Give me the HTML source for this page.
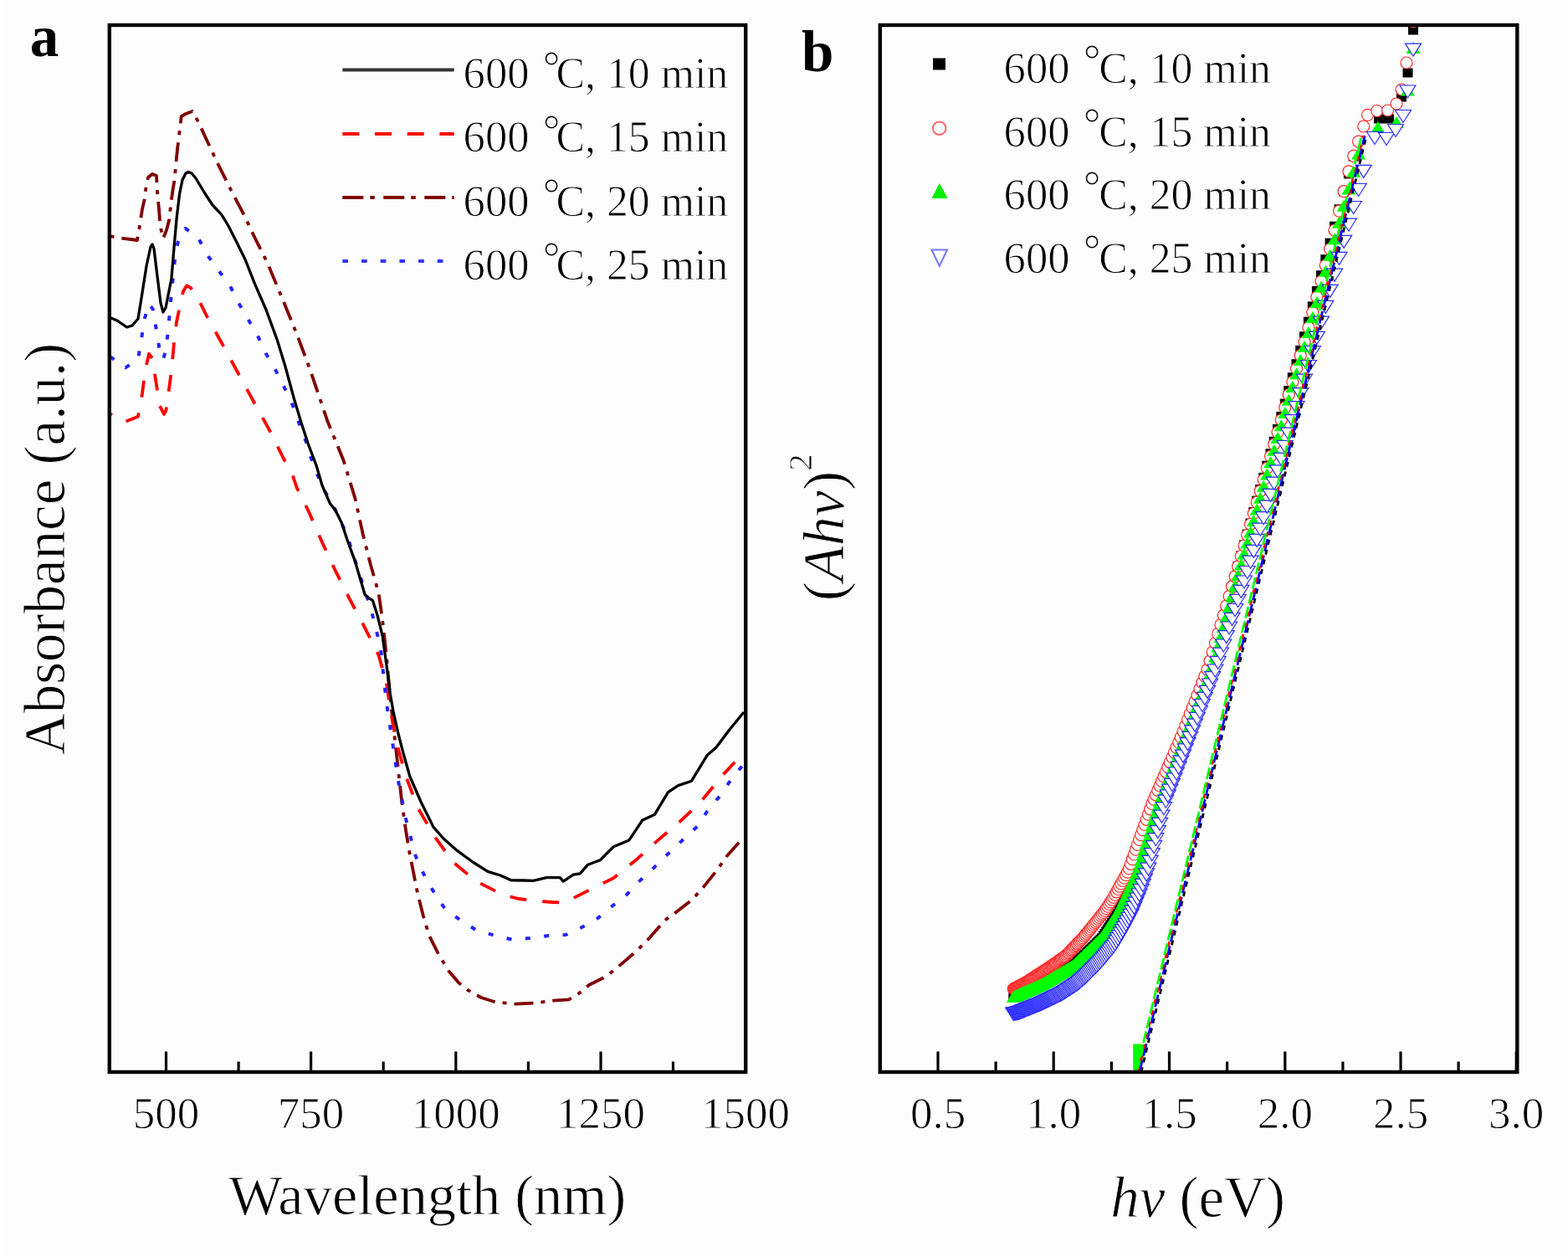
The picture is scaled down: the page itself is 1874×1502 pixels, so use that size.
<!DOCTYPE html>
<html><head><meta charset="utf-8"><title>Absorbance and Tauc plot</title>
<style>html,body{margin:0;padding:0;background:#fdfdfd;}svg{display:block;}</style>
</head><body>
<svg width="1874" height="1502" viewBox="0 0 1874 1502">
<rect x="0" y="0" width="1874" height="1502" fill="#fdfdfd"/>
<rect x="0" y="0" width="8" height="1502" fill="#ffffff"/>
<defs><clipPath id="ca"><rect x="130.8" y="30.0" width="760.4000000000001" height="1251.0"/></clipPath><clipPath id="cb"><rect x="1051.8" y="30.0" width="761.5" height="1251.0"/></clipPath></defs>
<g clip-path="url(#ca)" fill="none" stroke-linejoin="round">
<polyline points="131.5,282.2 145.0,284.5 164.0,287.0 166.4,273.4 170.0,250.0 172.7,238.2 174.3,225.5 177.0,212.0 182.0,208.0 187.0,210.0 188.0,230.0 190.0,250.0 191.5,270.0 195.0,285.0 199.0,275.0 202.3,262.2 204.7,240.0 206.7,226.0 208.7,214.3 210.3,195.0 212.3,176.0 214.3,160.0 216.7,139.2 222.0,136.0 230.0,133.0 237.5,146.4 245.0,163.0 260.0,195.0 275.0,225.0 291.4,256.4 305.0,285.0 320.0,315.0 341.3,366.2 355.0,400.0 370.0,440.0 391.2,502.7 410.5,550.0 424.5,595.8 433.8,638.5 443.0,675.0 452.5,708.4 457.0,740.0 461.8,782.9 466.0,830.0 471.1,876.0 476.0,920.0 480.4,959.9 485.0,992.0 489.7,1020.4 499.0,1067.0 506.0,1095.0 513.0,1118.2 524.0,1140.0 536.3,1160.2 548.0,1174.0 559.6,1183.4 575.0,1192.0 592.2,1197.4 615.5,1199.7 640.0,1198.4 661.3,1195.7 680.0,1194.4 692.0,1187.0 703.9,1177.0 725.2,1166.4 741.2,1153.1 759.9,1137.1 775.9,1121.1 794.5,1099.8 809.2,1089.1 826.5,1075.8 839.8,1061.1 855.8,1041.2 869.1,1022.5 889.0,1000.0" stroke="#800000" stroke-width="3.8" stroke-dasharray="23 9 5 9" stroke-dashoffset="32"/>
<polyline points="131.5,494.3 140.0,500.0 148.3,504.3 157.0,501.0 165.0,497.7 170.0,470.0 174.0,440.0 178.2,422.8 182.0,428.0 187.0,460.0 191.0,485.0 196.0,495.0 198.5,490.0 202.0,465.0 204.9,442.8 208.0,410.0 211.0,385.0 214.9,366.0 219.0,348.0 223.2,341.3 228.0,344.0 234.8,353.0 248.1,379.5 264.8,409.5 284.7,446.0 304.7,482.7 321.3,512.6 338.0,546.0 350.0,568.6 354.6,582.5 368.6,610.5 385.0,648.0 401.2,682.7 418.0,716.0 433.8,745.6 452.5,782.9 461.8,815.5 467.0,850.0 473.4,885.4 485.0,927.3 499.0,964.5 517.7,997.1 541.0,1029.7 568.9,1053.0 601.5,1069.3 620.0,1074.0 638.8,1076.3 660.0,1078.0 674.6,1078.5 701.2,1065.1 733.2,1049.2 759.9,1027.8 786.5,1003.9 813.2,981.2 837.1,958.6 861.1,929.2 889.0,899.0" stroke="#ff0000" stroke-width="3.8" stroke-dasharray="20 19" stroke-dashoffset="17"/>
<polyline points="131.5,426.1 140.0,432.0 150.0,439.4 158.0,434.0 165.0,429.4 169.0,405.0 173.0,380.0 178.2,362.9 183.0,370.0 187.0,395.0 191.0,420.0 194.9,429.4 198.0,420.0 201.0,395.0 204.0,360.0 207.0,330.0 210.0,300.0 214.0,285.0 221.5,273.0 236.5,283.0 246.5,303.0 259.8,321.3 274.8,341.3 284.7,361.2 296.4,381.2 308.0,401.2 318.0,422.8 329.7,442.8 338.0,459.4 348.0,479.4 356.3,502.7 364.6,524.3 371.3,546.0 378.0,564.0 387.0,585.0 396.6,601.0 406.0,620.0 415.2,640.8 429.2,685.0 443.2,727.0 454.8,773.6 461.8,838.8 468.8,885.4 475.8,931.9 485.0,978.5 496.7,1022.8 506.0,1043.7 517.7,1064.7 531.6,1085.6 550.3,1099.6 568.9,1111.2 592.2,1118.2 613.2,1122.9 633.3,1121.1 656.0,1117.9 675.9,1117.1 695.9,1107.8 714.6,1097.1 731.9,1082.5 746.5,1071.8 762.5,1054.5 778.5,1039.8 793.2,1025.2 817.2,1002.5 834.5,986.5 847.8,965.2 861.1,950.6 874.4,930.6 889.0,913.0" stroke="#2222ff" stroke-width="4" stroke-dasharray="6 16.5"/>
<polyline points="131.5,379.5 140.0,383.0 151.6,391.0 158.0,389.0 165.0,381.0 170.0,350.0 175.0,318.0 180.0,295.0 182.0,292.0 184.0,297.0 188.0,330.0 192.0,362.0 195.0,373.0 198.0,368.0 204.9,333.0 208.0,296.0 211.0,262.0 214.5,232.0 218.0,215.0 222.0,207.0 225.0,205.5 229.0,207.0 234.0,213.0 244.8,231.0 254.0,245.0 264.8,256.4 273.0,270.0 281.4,286.4 293.0,310.0 304.7,339.6 318.0,370.0 331.3,406.2 341.0,438.0 351.3,476.0 360.0,505.0 367.9,529.3 378.0,556.0 385.0,580.0 394.2,601.2 401.0,610.0 408.2,624.5 415.0,645.0 424.5,671.1 430.0,690.0 436.2,710.7 440.0,714.0 445.5,717.7 451.0,735.0 457.1,759.6 462.0,795.0 466.4,829.5 470.0,850.0 475.8,876.0 482.0,900.0 489.7,927.3 503.0,958.0 517.7,987.8 530.0,1002.0 545.6,1015.8 565.0,1030.0 582.9,1041.4 598.0,1046.0 610.7,1051.8 625.0,1052.0 637.3,1052.3 653.3,1048.6 669.3,1048.6 673.3,1053.2 685.3,1045.2 693.3,1043.8 702.6,1033.2 717.2,1027.8 733.2,1011.8 751.9,1003.9 767.9,979.9 782.5,973.2 798.5,946.6 810.5,938.6 826.5,933.2 845.1,902.6 855.8,893.3 871.8,872.0 889.0,851.0" stroke="#000000" stroke-width="3.3"/>
</g>
<clipPath id="cb2"><rect x="1051.8" y="30.0" width="761.5" height="1251.0"/></clipPath>
<g clip-path="url(#cb2)">
<g fill="#000">
<rect x="1205.3" y="1186.3" width="12" height="11"/>
<rect x="1206.1" y="1186.0" width="12" height="11"/>
<rect x="1206.9" y="1185.6" width="12" height="11"/>
<rect x="1207.6" y="1185.3" width="12" height="11"/>
<rect x="1208.4" y="1184.9" width="12" height="11"/>
<rect x="1209.2" y="1184.6" width="12" height="11"/>
<rect x="1210.0" y="1184.2" width="12" height="11"/>
<rect x="1210.8" y="1183.9" width="12" height="11"/>
<rect x="1211.6" y="1183.5" width="12" height="11"/>
<rect x="1212.4" y="1183.2" width="12" height="11"/>
<rect x="1213.2" y="1182.8" width="12" height="11"/>
<rect x="1214.0" y="1182.4" width="12" height="11"/>
<rect x="1214.8" y="1182.1" width="12" height="11"/>
<rect x="1215.7" y="1181.7" width="12" height="11"/>
<rect x="1216.5" y="1181.3" width="12" height="11"/>
<rect x="1217.4" y="1181.0" width="12" height="11"/>
<rect x="1218.2" y="1180.6" width="12" height="11"/>
<rect x="1219.1" y="1180.2" width="12" height="11"/>
<rect x="1219.9" y="1179.8" width="12" height="11"/>
<rect x="1220.8" y="1179.5" width="12" height="11"/>
<rect x="1221.7" y="1179.1" width="12" height="11"/>
<rect x="1222.5" y="1178.7" width="12" height="11"/>
<rect x="1223.4" y="1178.3" width="12" height="11"/>
<rect x="1224.3" y="1177.9" width="12" height="11"/>
<rect x="1225.2" y="1177.5" width="12" height="11"/>
<rect x="1226.1" y="1177.1" width="12" height="11"/>
<rect x="1227.0" y="1176.7" width="12" height="11"/>
<rect x="1227.9" y="1176.3" width="12" height="11"/>
<rect x="1228.9" y="1175.9" width="12" height="11"/>
<rect x="1229.8" y="1175.5" width="12" height="11"/>
<rect x="1230.7" y="1175.1" width="12" height="11"/>
<rect x="1231.7" y="1174.6" width="12" height="11"/>
<rect x="1232.6" y="1174.2" width="12" height="11"/>
<rect x="1233.6" y="1173.8" width="12" height="11"/>
<rect x="1234.5" y="1173.4" width="12" height="11"/>
<rect x="1235.5" y="1172.9" width="12" height="11"/>
<rect x="1236.5" y="1172.5" width="12" height="11"/>
<rect x="1237.5" y="1172.1" width="12" height="11"/>
<rect x="1238.5" y="1171.6" width="12" height="11"/>
<rect x="1239.5" y="1171.2" width="12" height="11"/>
<rect x="1240.5" y="1170.6" width="12" height="11"/>
<rect x="1241.5" y="1170.0" width="12" height="11"/>
<rect x="1242.5" y="1169.4" width="12" height="11"/>
<rect x="1243.6" y="1168.8" width="12" height="11"/>
<rect x="1244.6" y="1168.2" width="12" height="11"/>
<rect x="1245.7" y="1167.5" width="12" height="11"/>
<rect x="1246.7" y="1166.9" width="12" height="11"/>
<rect x="1247.8" y="1166.2" width="12" height="11"/>
<rect x="1248.9" y="1165.6" width="12" height="11"/>
<rect x="1249.9" y="1164.9" width="12" height="11"/>
<rect x="1251.0" y="1164.3" width="12" height="11"/>
<rect x="1252.1" y="1163.6" width="12" height="11"/>
<rect x="1253.2" y="1162.9" width="12" height="11"/>
<rect x="1254.4" y="1162.3" width="12" height="11"/>
<rect x="1255.5" y="1161.6" width="12" height="11"/>
<rect x="1256.6" y="1160.9" width="12" height="11"/>
<rect x="1257.8" y="1160.2" width="12" height="11"/>
<rect x="1258.9" y="1159.5" width="12" height="11"/>
<rect x="1260.1" y="1158.8" width="12" height="11"/>
<rect x="1261.3" y="1158.1" width="12" height="11"/>
<rect x="1262.5" y="1157.4" width="12" height="11"/>
<rect x="1263.7" y="1156.7" width="12" height="11"/>
<rect x="1264.9" y="1155.9" width="12" height="11"/>
<rect x="1266.1" y="1155.2" width="12" height="11"/>
<rect x="1267.3" y="1154.5" width="12" height="11"/>
<rect x="1268.5" y="1153.7" width="12" height="11"/>
<rect x="1269.8" y="1153.0" width="12" height="11"/>
<rect x="1271.1" y="1152.2" width="12" height="11"/>
<rect x="1272.3" y="1151.4" width="12" height="11"/>
<rect x="1273.6" y="1150.7" width="12" height="11"/>
<rect x="1274.9" y="1149.9" width="12" height="11"/>
<rect x="1276.2" y="1149.1" width="12" height="11"/>
<rect x="1277.5" y="1148.2" width="12" height="11"/>
<rect x="1278.8" y="1146.9" width="12" height="11"/>
<rect x="1280.2" y="1145.6" width="12" height="11"/>
<rect x="1281.5" y="1144.3" width="12" height="11"/>
<rect x="1282.9" y="1143.0" width="12" height="11"/>
<rect x="1284.2" y="1141.6" width="12" height="11"/>
<rect x="1285.6" y="1140.3" width="12" height="11"/>
<rect x="1287.0" y="1138.9" width="12" height="11"/>
<rect x="1288.4" y="1137.5" width="12" height="11"/>
<rect x="1289.9" y="1136.1" width="12" height="11"/>
<rect x="1291.3" y="1134.7" width="12" height="11"/>
<rect x="1292.8" y="1133.3" width="12" height="11"/>
<rect x="1294.2" y="1131.9" width="12" height="11"/>
<rect x="1295.7" y="1130.4" width="12" height="11"/>
<rect x="1297.2" y="1129.0" width="12" height="11"/>
<rect x="1298.7" y="1127.5" width="12" height="11"/>
<rect x="1300.2" y="1126.0" width="12" height="11"/>
<rect x="1301.7" y="1124.5" width="12" height="11"/>
<rect x="1303.3" y="1123.0" width="12" height="11"/>
<rect x="1304.8" y="1121.5" width="12" height="11"/>
<rect x="1306.4" y="1120.0" width="12" height="11"/>
<rect x="1308.0" y="1118.4" width="12" height="11"/>
<rect x="1309.6" y="1116.8" width="12" height="11"/>
<rect x="1311.2" y="1115.1" width="12" height="11"/>
<rect x="1312.9" y="1112.6" width="12" height="11"/>
<rect x="1314.5" y="1110.0" width="12" height="11"/>
<rect x="1316.2" y="1107.4" width="12" height="11"/>
<rect x="1317.9" y="1104.8" width="12" height="11"/>
<rect x="1319.6" y="1102.2" width="12" height="11"/>
<rect x="1321.3" y="1099.5" width="12" height="11"/>
<rect x="1323.1" y="1096.8" width="12" height="11"/>
<rect x="1324.8" y="1094.1" width="12" height="11"/>
<rect x="1326.6" y="1091.3" width="12" height="11"/>
<rect x="1328.4" y="1088.5" width="12" height="11"/>
<rect x="1330.2" y="1085.7" width="12" height="11"/>
<rect x="1332.0" y="1082.1" width="12" height="11"/>
<rect x="1333.9" y="1077.9" width="12" height="11"/>
<rect x="1335.8" y="1073.7" width="12" height="11"/>
<rect x="1337.7" y="1069.4" width="12" height="11"/>
<rect x="1339.6" y="1065.0" width="12" height="11"/>
<rect x="1341.5" y="1060.6" width="12" height="11"/>
<rect x="1343.4" y="1056.2" width="12" height="11"/>
<rect x="1345.4" y="1051.7" width="12" height="11"/>
<rect x="1347.4" y="1047.2" width="12" height="11"/>
<rect x="1349.4" y="1042.6" width="12" height="11"/>
<rect x="1351.5" y="1038.0" width="12" height="11"/>
<rect x="1353.5" y="1032.8" width="12" height="11"/>
<rect x="1355.6" y="1026.0" width="12" height="11"/>
<rect x="1357.7" y="1019.1" width="12" height="11"/>
<rect x="1359.8" y="1012.2" width="12" height="11"/>
<rect x="1362.0" y="1005.2" width="12" height="11"/>
<rect x="1364.2" y="998.1" width="12" height="11"/>
<rect x="1366.4" y="990.9" width="12" height="11"/>
<rect x="1368.6" y="983.6" width="12" height="11"/>
<rect x="1370.8" y="976.2" width="12" height="11"/>
<rect x="1373.1" y="968.8" width="12" height="11"/>
<rect x="1375.4" y="961.3" width="12" height="11"/>
<rect x="1377.8" y="953.8" width="12" height="11"/>
<rect x="1380.1" y="947.8" width="12" height="11"/>
<rect x="1382.5" y="941.6" width="12" height="11"/>
<rect x="1384.9" y="935.4" width="12" height="11"/>
<rect x="1387.4" y="929.1" width="12" height="11"/>
<rect x="1389.8" y="922.7" width="12" height="11"/>
<rect x="1392.3" y="916.2" width="12" height="11"/>
<rect x="1394.9" y="909.7" width="12" height="11"/>
<rect x="1397.4" y="903.0" width="12" height="11"/>
<rect x="1400.0" y="896.3" width="12" height="11"/>
<rect x="1402.7" y="889.6" width="12" height="11"/>
<rect x="1405.3" y="882.7" width="12" height="11"/>
<rect x="1408.0" y="875.7" width="12" height="11"/>
<rect x="1410.8" y="868.7" width="12" height="11"/>
<rect x="1413.5" y="861.6" width="12" height="11"/>
<rect x="1416.3" y="854.3" width="12" height="11"/>
<rect x="1419.2" y="847.0" width="12" height="11"/>
<rect x="1422.0" y="839.6" width="12" height="11"/>
<rect x="1424.9" y="832.1" width="12" height="11"/>
<rect x="1427.9" y="824.5" width="12" height="11"/>
<rect x="1430.9" y="816.8" width="12" height="11"/>
<rect x="1433.9" y="809.0" width="12" height="11"/>
<rect x="1437.0" y="801.0" width="12" height="11"/>
<rect x="1440.1" y="792.4" width="12" height="11"/>
<rect x="1443.2" y="781.0" width="12" height="11"/>
<rect x="1446.4" y="769.4" width="12" height="11"/>
<rect x="1449.7" y="757.7" width="12" height="11"/>
<rect x="1452.9" y="745.8" width="12" height="11"/>
<rect x="1456.3" y="733.7" width="12" height="11"/>
<rect x="1459.7" y="721.4" width="12" height="11"/>
<rect x="1463.1" y="709.0" width="12" height="11"/>
<rect x="1466.5" y="696.4" width="12" height="11"/>
<rect x="1470.1" y="683.7" width="12" height="11"/>
<rect x="1473.6" y="670.9" width="12" height="11"/>
<rect x="1477.3" y="658.3" width="12" height="11"/>
<rect x="1481.0" y="645.5" width="12" height="11"/>
<rect x="1484.7" y="632.6" width="12" height="11"/>
<rect x="1488.5" y="619.5" width="12" height="11"/>
<rect x="1492.3" y="606.1" width="12" height="11"/>
<rect x="1496.2" y="592.6" width="12" height="11"/>
<rect x="1500.2" y="578.9" width="12" height="11"/>
<rect x="1504.2" y="564.9" width="12" height="11"/>
<rect x="1508.3" y="550.7" width="12" height="11"/>
<rect x="1512.5" y="536.3" width="12" height="11"/>
<rect x="1516.7" y="521.8" width="12" height="11"/>
<rect x="1521.0" y="506.9" width="12" height="11"/>
<rect x="1525.3" y="491.9" width="12" height="11"/>
<rect x="1529.8" y="476.6" width="12" height="11"/>
<rect x="1534.2" y="461.1" width="12" height="11"/>
<rect x="1538.8" y="445.3" width="12" height="11"/>
<rect x="1543.5" y="429.2" width="12" height="11"/>
<rect x="1548.2" y="412.9" width="12" height="11"/>
<rect x="1553.0" y="396.3" width="12" height="11"/>
<rect x="1557.9" y="378.6" width="12" height="11"/>
<rect x="1562.8" y="360.4" width="12" height="11"/>
<rect x="1567.9" y="342.0" width="12" height="11"/>
<rect x="1573.0" y="323.2" width="12" height="11"/>
<rect x="1578.3" y="304.2" width="12" height="11"/>
<rect x="1583.6" y="284.7" width="12" height="11"/>
<rect x="1589.0" y="264.7" width="12" height="11"/>
<rect x="1594.5" y="244.3" width="12" height="11"/>
<rect x="1600.1" y="223.6" width="12" height="11"/>
<rect x="1605.9" y="202.4" width="12" height="11"/>
<rect x="1611.7" y="181.6" width="12" height="11"/>
<rect x="1642.0" y="136.5" width="12" height="11"/>
<rect x="1654.0" y="136.5" width="12" height="11"/>
<rect x="1669.0" y="110.5" width="12" height="11"/>
<rect x="1676.5" y="81.5" width="12" height="11"/>
<rect x="1683.0" y="30.5" width="12" height="11"/>
</g>
<g fill="#fff" stroke="#ff2828" stroke-width="1.2">
<circle cx="1211.3" cy="1181.7" r="7.0"/>
<circle cx="1212.1" cy="1181.3" r="7.0"/>
<circle cx="1212.9" cy="1180.9" r="7.0"/>
<circle cx="1213.6" cy="1180.5" r="7.0"/>
<circle cx="1214.4" cy="1180.1" r="7.0"/>
<circle cx="1215.2" cy="1179.7" r="7.0"/>
<circle cx="1216.0" cy="1179.3" r="7.0"/>
<circle cx="1216.8" cy="1178.8" r="7.0"/>
<circle cx="1217.6" cy="1178.4" r="7.0"/>
<circle cx="1218.4" cy="1178.0" r="7.0"/>
<circle cx="1219.2" cy="1177.6" r="7.0"/>
<circle cx="1220.0" cy="1177.1" r="7.0"/>
<circle cx="1220.8" cy="1176.7" r="7.0"/>
<circle cx="1221.7" cy="1176.3" r="7.0"/>
<circle cx="1222.5" cy="1175.8" r="7.0"/>
<circle cx="1223.4" cy="1175.4" r="7.0"/>
<circle cx="1224.2" cy="1175.0" r="7.0"/>
<circle cx="1225.1" cy="1174.5" r="7.0"/>
<circle cx="1225.9" cy="1174.1" r="7.0"/>
<circle cx="1226.8" cy="1173.6" r="7.0"/>
<circle cx="1227.7" cy="1173.1" r="7.0"/>
<circle cx="1228.5" cy="1172.5" r="7.0"/>
<circle cx="1229.4" cy="1171.9" r="7.0"/>
<circle cx="1230.3" cy="1171.4" r="7.0"/>
<circle cx="1231.2" cy="1170.8" r="7.0"/>
<circle cx="1232.1" cy="1170.2" r="7.0"/>
<circle cx="1233.0" cy="1169.6" r="7.0"/>
<circle cx="1233.9" cy="1169.0" r="7.0"/>
<circle cx="1234.9" cy="1168.4" r="7.0"/>
<circle cx="1235.8" cy="1167.8" r="7.0"/>
<circle cx="1236.7" cy="1167.2" r="7.0"/>
<circle cx="1237.7" cy="1166.6" r="7.0"/>
<circle cx="1238.6" cy="1165.9" r="7.0"/>
<circle cx="1239.6" cy="1165.3" r="7.0"/>
<circle cx="1240.5" cy="1164.7" r="7.0"/>
<circle cx="1241.5" cy="1164.1" r="7.0"/>
<circle cx="1242.5" cy="1163.4" r="7.0"/>
<circle cx="1243.5" cy="1162.8" r="7.0"/>
<circle cx="1244.5" cy="1162.1" r="7.0"/>
<circle cx="1245.5" cy="1161.5" r="7.0"/>
<circle cx="1246.5" cy="1160.8" r="7.0"/>
<circle cx="1247.5" cy="1160.2" r="7.0"/>
<circle cx="1248.5" cy="1159.5" r="7.0"/>
<circle cx="1249.6" cy="1158.8" r="7.0"/>
<circle cx="1250.6" cy="1158.2" r="7.0"/>
<circle cx="1251.7" cy="1157.5" r="7.0"/>
<circle cx="1252.7" cy="1156.8" r="7.0"/>
<circle cx="1253.8" cy="1156.1" r="7.0"/>
<circle cx="1254.9" cy="1155.4" r="7.0"/>
<circle cx="1255.9" cy="1154.6" r="7.0"/>
<circle cx="1257.0" cy="1153.9" r="7.0"/>
<circle cx="1258.1" cy="1153.1" r="7.0"/>
<circle cx="1259.2" cy="1152.3" r="7.0"/>
<circle cx="1260.4" cy="1151.5" r="7.0"/>
<circle cx="1261.5" cy="1150.8" r="7.0"/>
<circle cx="1262.6" cy="1150.0" r="7.0"/>
<circle cx="1263.8" cy="1149.2" r="7.0"/>
<circle cx="1264.9" cy="1148.3" r="7.0"/>
<circle cx="1266.1" cy="1147.5" r="7.0"/>
<circle cx="1267.3" cy="1146.7" r="7.0"/>
<circle cx="1268.5" cy="1145.9" r="7.0"/>
<circle cx="1269.7" cy="1145.0" r="7.0"/>
<circle cx="1270.9" cy="1144.2" r="7.0"/>
<circle cx="1272.1" cy="1143.3" r="7.0"/>
<circle cx="1273.3" cy="1142.5" r="7.0"/>
<circle cx="1274.5" cy="1141.4" r="7.0"/>
<circle cx="1275.8" cy="1140.1" r="7.0"/>
<circle cx="1277.1" cy="1138.8" r="7.0"/>
<circle cx="1278.3" cy="1137.5" r="7.0"/>
<circle cx="1279.6" cy="1136.1" r="7.0"/>
<circle cx="1280.9" cy="1134.8" r="7.0"/>
<circle cx="1282.2" cy="1133.4" r="7.0"/>
<circle cx="1283.5" cy="1132.0" r="7.0"/>
<circle cx="1284.8" cy="1130.7" r="7.0"/>
<circle cx="1286.2" cy="1129.3" r="7.0"/>
<circle cx="1287.5" cy="1127.8" r="7.0"/>
<circle cx="1288.9" cy="1126.4" r="7.0"/>
<circle cx="1290.2" cy="1125.0" r="7.0"/>
<circle cx="1291.6" cy="1123.5" r="7.0"/>
<circle cx="1293.0" cy="1122.1" r="7.0"/>
<circle cx="1294.4" cy="1120.6" r="7.0"/>
<circle cx="1295.9" cy="1118.9" r="7.0"/>
<circle cx="1297.3" cy="1117.2" r="7.0"/>
<circle cx="1298.8" cy="1115.4" r="7.0"/>
<circle cx="1300.2" cy="1113.5" r="7.0"/>
<circle cx="1301.7" cy="1111.7" r="7.0"/>
<circle cx="1303.2" cy="1109.9" r="7.0"/>
<circle cx="1304.7" cy="1108.0" r="7.0"/>
<circle cx="1306.2" cy="1106.1" r="7.0"/>
<circle cx="1307.7" cy="1104.2" r="7.0"/>
<circle cx="1309.3" cy="1102.3" r="7.0"/>
<circle cx="1310.8" cy="1100.4" r="7.0"/>
<circle cx="1312.4" cy="1098.4" r="7.0"/>
<circle cx="1314.0" cy="1096.4" r="7.0"/>
<circle cx="1315.6" cy="1094.4" r="7.0"/>
<circle cx="1317.2" cy="1092.4" r="7.0"/>
<circle cx="1318.9" cy="1090.4" r="7.0"/>
<circle cx="1320.5" cy="1088.2" r="7.0"/>
<circle cx="1322.2" cy="1085.6" r="7.0"/>
<circle cx="1323.9" cy="1083.1" r="7.0"/>
<circle cx="1325.6" cy="1080.5" r="7.0"/>
<circle cx="1327.3" cy="1077.9" r="7.0"/>
<circle cx="1329.1" cy="1075.2" r="7.0"/>
<circle cx="1330.8" cy="1072.3" r="7.0"/>
<circle cx="1332.6" cy="1069.1" r="7.0"/>
<circle cx="1334.4" cy="1065.8" r="7.0"/>
<circle cx="1336.2" cy="1062.5" r="7.0"/>
<circle cx="1338.0" cy="1059.2" r="7.0"/>
<circle cx="1339.9" cy="1055.9" r="7.0"/>
<circle cx="1341.8" cy="1052.5" r="7.0"/>
<circle cx="1343.7" cy="1049.1" r="7.0"/>
<circle cx="1345.6" cy="1045.7" r="7.0"/>
<circle cx="1347.5" cy="1042.2" r="7.0"/>
<circle cx="1349.4" cy="1037.9" r="7.0"/>
<circle cx="1351.4" cy="1032.3" r="7.0"/>
<circle cx="1353.4" cy="1026.7" r="7.0"/>
<circle cx="1355.4" cy="1021.0" r="7.0"/>
<circle cx="1357.5" cy="1015.2" r="7.0"/>
<circle cx="1359.5" cy="1009.4" r="7.0"/>
<circle cx="1361.6" cy="1003.5" r="7.0"/>
<circle cx="1363.7" cy="997.6" r="7.0"/>
<circle cx="1365.8" cy="991.6" r="7.0"/>
<circle cx="1368.0" cy="985.5" r="7.0"/>
<circle cx="1370.2" cy="979.3" r="7.0"/>
<circle cx="1372.4" cy="973.1" r="7.0"/>
<circle cx="1374.6" cy="966.8" r="7.0"/>
<circle cx="1376.8" cy="960.4" r="7.0"/>
<circle cx="1379.1" cy="955.1" r="7.0"/>
<circle cx="1381.4" cy="949.8" r="7.0"/>
<circle cx="1383.8" cy="944.4" r="7.0"/>
<circle cx="1386.1" cy="939.0" r="7.0"/>
<circle cx="1388.5" cy="933.5" r="7.0"/>
<circle cx="1390.9" cy="927.9" r="7.0"/>
<circle cx="1393.4" cy="922.3" r="7.0"/>
<circle cx="1395.8" cy="916.6" r="7.0"/>
<circle cx="1398.3" cy="910.8" r="7.0"/>
<circle cx="1400.9" cy="905.0" r="7.0"/>
<circle cx="1403.4" cy="899.0" r="7.0"/>
<circle cx="1406.0" cy="893.1" r="7.0"/>
<circle cx="1408.7" cy="887.0" r="7.0"/>
<circle cx="1411.3" cy="880.9" r="7.0"/>
<circle cx="1414.0" cy="874.1" r="7.0"/>
<circle cx="1416.8" cy="867.1" r="7.0"/>
<circle cx="1419.5" cy="860.0" r="7.0"/>
<circle cx="1422.3" cy="852.9" r="7.0"/>
<circle cx="1425.2" cy="845.6" r="7.0"/>
<circle cx="1428.0" cy="838.3" r="7.0"/>
<circle cx="1430.9" cy="830.8" r="7.0"/>
<circle cx="1433.9" cy="823.3" r="7.0"/>
<circle cx="1436.9" cy="815.7" r="7.0"/>
<circle cx="1439.9" cy="807.9" r="7.0"/>
<circle cx="1443.0" cy="800.1" r="7.0"/>
<circle cx="1446.1" cy="789.7" r="7.0"/>
<circle cx="1449.2" cy="779.1" r="7.0"/>
<circle cx="1452.4" cy="768.3" r="7.0"/>
<circle cx="1455.7" cy="757.4" r="7.0"/>
<circle cx="1458.9" cy="746.4" r="7.0"/>
<circle cx="1462.3" cy="735.2" r="7.0"/>
<circle cx="1465.7" cy="723.9" r="7.0"/>
<circle cx="1469.1" cy="712.3" r="7.0"/>
<circle cx="1472.5" cy="700.7" r="7.0"/>
<circle cx="1476.1" cy="688.8" r="7.0"/>
<circle cx="1479.6" cy="676.8" r="7.0"/>
<circle cx="1483.3" cy="664.5" r="7.0"/>
<circle cx="1487.0" cy="652.0" r="7.0"/>
<circle cx="1490.7" cy="639.4" r="7.0"/>
<circle cx="1494.5" cy="626.5" r="7.0"/>
<circle cx="1498.3" cy="613.5" r="7.0"/>
<circle cx="1502.2" cy="600.2" r="7.0"/>
<circle cx="1506.2" cy="586.8" r="7.0"/>
<circle cx="1510.2" cy="573.1" r="7.0"/>
<circle cx="1514.3" cy="559.3" r="7.0"/>
<circle cx="1518.5" cy="545.2" r="7.0"/>
<circle cx="1522.7" cy="530.9" r="7.0"/>
<circle cx="1527.0" cy="516.5" r="7.0"/>
<circle cx="1531.3" cy="501.8" r="7.0"/>
<circle cx="1535.8" cy="486.9" r="7.0"/>
<circle cx="1540.2" cy="471.7" r="7.0"/>
<circle cx="1544.8" cy="456.3" r="7.0"/>
<circle cx="1549.5" cy="440.6" r="7.0"/>
<circle cx="1554.2" cy="424.7" r="7.0"/>
<circle cx="1559.0" cy="408.5" r="7.0"/>
<circle cx="1563.9" cy="391.4" r="7.0"/>
<circle cx="1568.8" cy="373.2" r="7.0"/>
<circle cx="1573.9" cy="354.8" r="7.0"/>
<circle cx="1579.0" cy="336.0" r="7.0"/>
<circle cx="1584.3" cy="317.0" r="7.0"/>
<circle cx="1589.6" cy="297.5" r="7.0"/>
<circle cx="1595.0" cy="275.1" r="7.0"/>
<circle cx="1600.5" cy="252.1" r="7.0"/>
<circle cx="1606.1" cy="228.7" r="7.0"/>
<circle cx="1611.9" cy="204.8" r="7.0"/>
<circle cx="1617.7" cy="186.4" r="7.0"/>
<circle cx="1623.6" cy="169.1" r="7.0"/>
<circle cx="1629.7" cy="151.0" r="7.0"/>
<circle cx="1634.5" cy="137.4" r="7.0"/>
<circle cx="1645.7" cy="132.5" r="7.0"/>
<circle cx="1658.5" cy="132.0" r="7.0"/>
<circle cx="1669.0" cy="124.0" r="7.0"/>
<circle cx="1675.0" cy="107.0" r="7.0"/>
<circle cx="1681.0" cy="75.0" r="7.0"/>
<circle cx="1689.0" cy="26.0" r="7.0"/>
</g>
<g fill="#00ff00">
<polygon points="1211.3,1183.8 1219.8,1197.8 1202.8,1197.8"/>
<polygon points="1212.1,1183.5 1220.6,1197.5 1203.6,1197.5"/>
<polygon points="1212.9,1183.1 1221.4,1197.1 1204.4,1197.1"/>
<polygon points="1213.6,1182.8 1222.1,1196.8 1205.1,1196.8"/>
<polygon points="1214.4,1182.4 1222.9,1196.4 1205.9,1196.4"/>
<polygon points="1215.2,1182.1 1223.7,1196.1 1206.7,1196.1"/>
<polygon points="1216.0,1181.7 1224.5,1195.7 1207.5,1195.7"/>
<polygon points="1216.8,1181.4 1225.3,1195.4 1208.3,1195.4"/>
<polygon points="1217.6,1181.0 1226.1,1195.0 1209.1,1195.0"/>
<polygon points="1218.4,1180.7 1226.9,1194.7 1209.9,1194.7"/>
<polygon points="1219.2,1180.3 1227.7,1194.3 1210.7,1194.3"/>
<polygon points="1220.0,1179.9 1228.5,1193.9 1211.5,1193.9"/>
<polygon points="1220.8,1179.6 1229.3,1193.6 1212.3,1193.6"/>
<polygon points="1221.7,1179.2 1230.2,1193.2 1213.2,1193.2"/>
<polygon points="1222.5,1178.8 1231.0,1192.8 1214.0,1192.8"/>
<polygon points="1223.4,1178.5 1231.9,1192.5 1214.9,1192.5"/>
<polygon points="1224.2,1178.1 1232.7,1192.1 1215.7,1192.1"/>
<polygon points="1225.1,1177.7 1233.6,1191.7 1216.6,1191.7"/>
<polygon points="1225.9,1177.3 1234.4,1191.3 1217.4,1191.3"/>
<polygon points="1226.8,1177.0 1235.3,1191.0 1218.3,1191.0"/>
<polygon points="1227.7,1176.6 1236.2,1190.6 1219.2,1190.6"/>
<polygon points="1228.5,1176.2 1237.0,1190.2 1220.0,1190.2"/>
<polygon points="1229.4,1175.8 1237.9,1189.8 1220.9,1189.8"/>
<polygon points="1230.3,1175.4 1238.8,1189.4 1221.8,1189.4"/>
<polygon points="1231.2,1175.0 1239.7,1189.0 1222.7,1189.0"/>
<polygon points="1232.1,1174.6 1240.6,1188.6 1223.6,1188.6"/>
<polygon points="1233.0,1174.2 1241.5,1188.2 1224.5,1188.2"/>
<polygon points="1233.9,1173.8 1242.4,1187.8 1225.4,1187.8"/>
<polygon points="1234.9,1173.4 1243.4,1187.4 1226.4,1187.4"/>
<polygon points="1235.8,1173.0 1244.3,1187.0 1227.3,1187.0"/>
<polygon points="1236.7,1172.6 1245.2,1186.6 1228.2,1186.6"/>
<polygon points="1237.7,1172.1 1246.2,1186.1 1229.2,1186.1"/>
<polygon points="1238.6,1171.7 1247.1,1185.7 1230.1,1185.7"/>
<polygon points="1239.6,1171.3 1248.1,1185.3 1231.1,1185.3"/>
<polygon points="1240.5,1170.9 1249.0,1184.9 1232.0,1184.9"/>
<polygon points="1241.5,1170.4 1250.0,1184.4 1233.0,1184.4"/>
<polygon points="1242.5,1170.0 1251.0,1184.0 1234.0,1184.0"/>
<polygon points="1243.5,1169.6 1252.0,1183.6 1235.0,1183.6"/>
<polygon points="1244.5,1169.1 1253.0,1183.1 1236.0,1183.1"/>
<polygon points="1245.5,1168.7 1254.0,1182.7 1237.0,1182.7"/>
<polygon points="1246.5,1168.1 1255.0,1182.1 1238.0,1182.1"/>
<polygon points="1247.5,1167.5 1256.0,1181.5 1239.0,1181.5"/>
<polygon points="1248.5,1166.9 1257.0,1180.9 1240.0,1180.9"/>
<polygon points="1249.6,1166.3 1258.1,1180.3 1241.1,1180.3"/>
<polygon points="1250.6,1165.7 1259.1,1179.7 1242.1,1179.7"/>
<polygon points="1251.7,1165.0 1260.2,1179.0 1243.2,1179.0"/>
<polygon points="1252.7,1164.4 1261.2,1178.4 1244.2,1178.4"/>
<polygon points="1253.8,1163.7 1262.3,1177.7 1245.3,1177.7"/>
<polygon points="1254.9,1163.1 1263.4,1177.1 1246.4,1177.1"/>
<polygon points="1255.9,1162.4 1264.4,1176.4 1247.4,1176.4"/>
<polygon points="1257.0,1161.8 1265.5,1175.8 1248.5,1175.8"/>
<polygon points="1258.1,1161.1 1266.6,1175.1 1249.6,1175.1"/>
<polygon points="1259.2,1160.4 1267.8,1174.4 1250.8,1174.4"/>
<polygon points="1260.4,1159.8 1268.9,1173.8 1251.9,1173.8"/>
<polygon points="1261.5,1159.1 1270.0,1173.1 1253.0,1173.1"/>
<polygon points="1262.6,1158.4 1271.1,1172.4 1254.1,1172.4"/>
<polygon points="1263.8,1157.7 1272.3,1171.7 1255.3,1171.7"/>
<polygon points="1264.9,1157.0 1273.4,1171.0 1256.4,1171.0"/>
<polygon points="1266.1,1156.3 1274.6,1170.3 1257.6,1170.3"/>
<polygon points="1267.3,1155.6 1275.8,1169.6 1258.8,1169.6"/>
<polygon points="1268.5,1154.9 1277.0,1168.9 1260.0,1168.9"/>
<polygon points="1269.7,1154.2 1278.2,1168.2 1261.2,1168.2"/>
<polygon points="1270.9,1153.4 1279.4,1167.4 1262.4,1167.4"/>
<polygon points="1272.1,1152.7 1280.6,1166.7 1263.6,1166.7"/>
<polygon points="1273.3,1152.0 1281.8,1166.0 1264.8,1166.0"/>
<polygon points="1274.5,1151.2 1283.0,1165.2 1266.0,1165.2"/>
<polygon points="1275.8,1150.5 1284.3,1164.5 1267.3,1164.5"/>
<polygon points="1277.1,1149.7 1285.6,1163.7 1268.6,1163.7"/>
<polygon points="1278.3,1148.9 1286.8,1162.9 1269.8,1162.9"/>
<polygon points="1279.6,1148.2 1288.1,1162.2 1271.1,1162.2"/>
<polygon points="1280.9,1147.4 1289.4,1161.4 1272.4,1161.4"/>
<polygon points="1282.2,1146.6 1290.7,1160.6 1273.7,1160.6"/>
<polygon points="1283.5,1145.7 1292.0,1159.7 1275.0,1159.7"/>
<polygon points="1284.8,1144.4 1293.3,1158.4 1276.3,1158.4"/>
<polygon points="1286.2,1143.1 1294.7,1157.1 1277.7,1157.1"/>
<polygon points="1287.5,1141.8 1296.0,1155.8 1279.0,1155.8"/>
<polygon points="1288.9,1140.5 1297.4,1154.5 1280.4,1154.5"/>
<polygon points="1290.2,1139.1 1298.7,1153.1 1281.7,1153.1"/>
<polygon points="1291.6,1137.8 1300.1,1151.8 1283.1,1151.8"/>
<polygon points="1293.0,1136.4 1301.5,1150.4 1284.5,1150.4"/>
<polygon points="1294.4,1135.0 1302.9,1149.0 1285.9,1149.0"/>
<polygon points="1295.9,1133.6 1304.4,1147.6 1287.4,1147.6"/>
<polygon points="1297.3,1132.2 1305.8,1146.2 1288.8,1146.2"/>
<polygon points="1298.8,1130.8 1307.2,1144.8 1290.2,1144.8"/>
<polygon points="1300.2,1129.4 1308.7,1143.4 1291.7,1143.4"/>
<polygon points="1301.7,1127.9 1310.2,1141.9 1293.2,1141.9"/>
<polygon points="1303.2,1126.5 1311.7,1140.5 1294.7,1140.5"/>
<polygon points="1304.7,1125.0 1313.2,1139.0 1296.2,1139.0"/>
<polygon points="1306.2,1123.5 1314.7,1137.5 1297.7,1137.5"/>
<polygon points="1307.7,1122.0 1316.2,1136.0 1299.2,1136.0"/>
<polygon points="1309.3,1120.5 1317.8,1134.5 1300.8,1134.5"/>
<polygon points="1310.8,1119.0 1319.3,1133.0 1302.3,1133.0"/>
<polygon points="1312.4,1117.5 1320.9,1131.5 1303.9,1131.5"/>
<polygon points="1314.0,1115.9 1322.5,1129.9 1305.5,1129.9"/>
<polygon points="1315.6,1114.3 1324.1,1128.3 1307.1,1128.3"/>
<polygon points="1317.2,1112.6 1325.7,1126.6 1308.7,1126.6"/>
<polygon points="1318.9,1110.1 1327.4,1124.1 1310.4,1124.1"/>
<polygon points="1320.5,1107.5 1329.0,1121.5 1312.0,1121.5"/>
<polygon points="1322.2,1104.9 1330.7,1118.9 1313.7,1118.9"/>
<polygon points="1323.9,1102.3 1332.4,1116.3 1315.4,1116.3"/>
<polygon points="1325.6,1099.7 1334.1,1113.7 1317.1,1113.7"/>
<polygon points="1327.3,1097.0 1335.8,1111.0 1318.8,1111.0"/>
<polygon points="1329.1,1094.3 1337.6,1108.3 1320.6,1108.3"/>
<polygon points="1330.8,1091.6 1339.3,1105.6 1322.3,1105.6"/>
<polygon points="1332.6,1088.8 1341.1,1102.8 1324.1,1102.8"/>
<polygon points="1334.4,1086.0 1342.9,1100.0 1325.9,1100.0"/>
<polygon points="1336.2,1083.2 1344.7,1097.2 1327.7,1097.2"/>
<polygon points="1338.0,1079.8 1346.5,1093.8 1329.5,1093.8"/>
<polygon points="1339.9,1075.8 1348.4,1089.8 1331.4,1089.8"/>
<polygon points="1341.8,1071.8 1350.3,1085.8 1333.3,1085.8"/>
<polygon points="1343.7,1067.8 1352.2,1081.8 1335.2,1081.8"/>
<polygon points="1345.6,1063.8 1354.1,1077.8 1337.1,1077.8"/>
<polygon points="1347.5,1059.6 1356.0,1073.6 1339.0,1073.6"/>
<polygon points="1349.4,1055.5 1357.9,1069.5 1340.9,1069.5"/>
<polygon points="1351.4,1051.3 1359.9,1065.3 1342.9,1065.3"/>
<polygon points="1353.4,1047.0 1361.9,1061.0 1344.9,1061.0"/>
<polygon points="1355.4,1042.7 1363.9,1056.7 1346.9,1056.7"/>
<polygon points="1357.5,1038.4 1366.0,1052.4 1349.0,1052.4"/>
<polygon points="1359.5,1034.0 1368.0,1048.0 1351.0,1048.0"/>
<polygon points="1361.6,1027.9 1370.1,1041.9 1353.1,1041.9"/>
<polygon points="1363.7,1021.1 1372.2,1035.1 1355.2,1035.1"/>
<polygon points="1365.8,1014.3 1374.3,1028.3 1357.3,1028.3"/>
<polygon points="1368.0,1007.4 1376.5,1021.4 1359.5,1021.4"/>
<polygon points="1370.2,1000.5 1378.7,1014.5 1361.7,1014.5"/>
<polygon points="1372.4,993.4 1380.9,1007.4 1363.9,1007.4"/>
<polygon points="1374.6,986.3 1383.1,1000.3 1366.1,1000.3"/>
<polygon points="1376.8,979.1 1385.3,993.1 1368.3,993.1"/>
<polygon points="1379.1,971.8 1387.6,985.8 1370.6,985.8"/>
<polygon points="1381.4,964.4 1389.9,978.4 1372.9,978.4"/>
<polygon points="1383.8,957.0 1392.3,971.0 1375.3,971.0"/>
<polygon points="1386.1,950.2 1394.6,964.2 1377.6,964.2"/>
<polygon points="1388.5,944.2 1397.0,958.2 1380.0,958.2"/>
<polygon points="1390.9,938.2 1399.4,952.2 1382.4,952.2"/>
<polygon points="1393.4,932.1 1401.9,946.1 1384.9,946.1"/>
<polygon points="1395.8,925.9 1404.3,939.9 1387.3,939.9"/>
<polygon points="1398.3,919.7 1406.8,933.7 1389.8,933.7"/>
<polygon points="1400.9,913.3 1409.4,927.3 1392.4,927.3"/>
<polygon points="1403.4,906.9 1411.9,920.9 1394.9,920.9"/>
<polygon points="1406.0,900.4 1414.5,914.4 1397.5,914.4"/>
<polygon points="1408.7,893.8 1417.2,907.8 1400.2,907.8"/>
<polygon points="1411.3,887.2 1419.8,901.2 1402.8,901.2"/>
<polygon points="1414.0,880.4 1422.5,894.4 1405.5,894.4"/>
<polygon points="1416.8,873.6 1425.2,887.6 1408.2,887.6"/>
<polygon points="1419.5,866.5 1428.0,880.5 1411.0,880.5"/>
<polygon points="1422.3,859.3 1430.8,873.3 1413.8,873.3"/>
<polygon points="1425.2,852.0 1433.7,866.0 1416.7,866.0"/>
<polygon points="1428.0,844.6 1436.5,858.6 1419.5,858.6"/>
<polygon points="1430.9,837.0 1439.4,851.0 1422.4,851.0"/>
<polygon points="1433.9,829.4 1442.4,843.4 1425.4,843.4"/>
<polygon points="1436.9,821.7 1445.4,835.7 1428.4,835.7"/>
<polygon points="1439.9,813.9 1448.4,827.9 1431.4,827.9"/>
<polygon points="1443.0,806.0 1451.5,820.0 1434.5,820.0"/>
<polygon points="1446.1,798.0 1454.6,812.0 1437.6,812.0"/>
<polygon points="1449.2,788.6 1457.7,802.6 1440.7,802.6"/>
<polygon points="1452.4,777.2 1460.9,791.2 1443.9,791.2"/>
<polygon points="1455.7,765.6 1464.2,779.6 1447.2,779.6"/>
<polygon points="1458.9,753.9 1467.4,767.9 1450.4,767.9"/>
<polygon points="1462.3,742.0 1470.8,756.0 1453.8,756.0"/>
<polygon points="1465.7,730.0 1474.2,744.0 1457.2,744.0"/>
<polygon points="1469.1,717.7 1477.6,731.7 1460.6,731.7"/>
<polygon points="1472.5,705.3 1481.0,719.3 1464.0,719.3"/>
<polygon points="1476.1,692.7 1484.6,706.7 1467.6,706.7"/>
<polygon points="1479.6,680.0 1488.1,694.0 1471.1,694.0"/>
<polygon points="1483.3,667.2 1491.8,681.2 1474.8,681.2"/>
<polygon points="1487.0,654.4 1495.5,668.4 1478.5,668.4"/>
<polygon points="1490.7,641.5 1499.2,655.5 1482.2,655.5"/>
<polygon points="1494.5,628.4 1503.0,642.4 1486.0,642.4"/>
<polygon points="1498.3,615.0 1506.8,629.0 1489.8,629.0"/>
<polygon points="1502.2,601.5 1510.7,615.5 1493.7,615.5"/>
<polygon points="1506.2,587.8 1514.7,601.8 1497.7,601.8"/>
<polygon points="1510.2,573.8 1518.7,587.8 1501.7,587.8"/>
<polygon points="1514.3,559.6 1522.8,573.6 1505.8,573.6"/>
<polygon points="1518.5,545.2 1527.0,559.2 1510.0,559.2"/>
<polygon points="1522.7,530.7 1531.2,544.7 1514.2,544.7"/>
<polygon points="1527.0,516.0 1535.5,530.0 1518.5,530.0"/>
<polygon points="1531.3,501.2 1539.8,515.2 1522.8,515.2"/>
<polygon points="1535.8,486.0 1544.2,500.0 1527.2,500.0"/>
<polygon points="1540.2,470.7 1548.7,484.7 1531.7,484.7"/>
<polygon points="1544.8,455.1 1553.3,469.1 1536.3,469.1"/>
<polygon points="1549.5,439.2 1558.0,453.2 1541.0,453.2"/>
<polygon points="1554.2,423.1 1562.7,437.1 1545.7,437.1"/>
<polygon points="1559.0,406.7 1567.5,420.7 1550.5,420.7"/>
<polygon points="1563.9,389.9 1572.4,403.9 1555.4,403.9"/>
<polygon points="1568.8,372.1 1577.3,386.1 1560.3,386.1"/>
<polygon points="1573.9,354.0 1582.4,368.0 1565.4,368.0"/>
<polygon points="1579.0,335.5 1587.5,349.5 1570.5,349.5"/>
<polygon points="1584.3,316.8 1592.8,330.8 1575.8,330.8"/>
<polygon points="1589.6,297.7 1598.1,311.7 1581.1,311.7"/>
<polygon points="1595.0,278.3 1603.5,292.3 1586.5,292.3"/>
<polygon points="1600.5,258.7 1609.0,272.7 1592.0,272.7"/>
<polygon points="1606.1,238.8 1614.6,252.8 1597.6,252.8"/>
<polygon points="1611.9,218.4 1620.4,232.4 1603.4,232.4"/>
<polygon points="1617.7,197.7 1626.2,211.7 1609.2,211.7"/>
<polygon points="1623.6,176.6 1632.1,190.6 1615.1,190.6"/>
<polygon points="1646.7,145.0 1655.2,159.0 1638.2,159.0"/>
<polygon points="1669.0,139.0 1677.5,153.0 1660.5,153.0"/>
<polygon points="1682.4,100.5 1690.9,114.5 1673.9,114.5"/>
<polygon points="1689.0,50.0 1697.5,64.0 1680.5,64.0"/>
</g>
<g fill="#fff" stroke="#2a2aff" stroke-width="1.2">
<polygon points="1201.8,1204.3 1220.8,1204.3 1211.3,1219.3"/>
<polygon points="1202.6,1204.2 1221.6,1204.2 1212.1,1219.2"/>
<polygon points="1203.4,1204.0 1222.4,1204.0 1212.9,1219.0"/>
<polygon points="1204.1,1203.8 1223.1,1203.8 1213.6,1218.8"/>
<polygon points="1204.9,1203.7 1223.9,1203.7 1214.4,1218.7"/>
<polygon points="1205.7,1203.5 1224.7,1203.5 1215.2,1218.5"/>
<polygon points="1206.5,1203.3 1225.5,1203.3 1216.0,1218.3"/>
<polygon points="1207.3,1203.2 1226.3,1203.2 1216.8,1218.2"/>
<polygon points="1208.1,1203.0 1227.1,1203.0 1217.6,1218.0"/>
<polygon points="1208.9,1202.7 1227.9,1202.7 1218.4,1217.7"/>
<polygon points="1209.7,1202.4 1228.7,1202.4 1219.2,1217.4"/>
<polygon points="1210.5,1202.1 1229.5,1202.1 1220.0,1217.1"/>
<polygon points="1211.3,1201.8 1230.3,1201.8 1220.8,1216.8"/>
<polygon points="1212.2,1201.4 1231.2,1201.4 1221.7,1216.4"/>
<polygon points="1213.0,1201.1 1232.0,1201.1 1222.5,1216.1"/>
<polygon points="1213.9,1200.8 1232.9,1200.8 1223.4,1215.8"/>
<polygon points="1214.7,1200.4 1233.7,1200.4 1224.2,1215.4"/>
<polygon points="1215.6,1200.1 1234.6,1200.1 1225.1,1215.1"/>
<polygon points="1216.4,1199.7 1235.4,1199.7 1225.9,1214.7"/>
<polygon points="1217.3,1199.4 1236.3,1199.4 1226.8,1214.4"/>
<polygon points="1218.2,1199.0 1237.2,1199.0 1227.7,1214.0"/>
<polygon points="1219.0,1198.7 1238.0,1198.7 1228.5,1213.7"/>
<polygon points="1219.9,1198.3 1238.9,1198.3 1229.4,1213.3"/>
<polygon points="1220.8,1198.0 1239.8,1198.0 1230.3,1213.0"/>
<polygon points="1221.7,1197.6 1240.7,1197.6 1231.2,1212.6"/>
<polygon points="1222.6,1197.2 1241.6,1197.2 1232.1,1212.2"/>
<polygon points="1223.5,1196.9 1242.5,1196.9 1233.0,1211.9"/>
<polygon points="1224.4,1196.5 1243.4,1196.5 1233.9,1211.5"/>
<polygon points="1225.4,1196.1 1244.4,1196.1 1234.9,1211.1"/>
<polygon points="1226.3,1195.8 1245.3,1195.8 1235.8,1210.8"/>
<polygon points="1227.2,1195.4 1246.2,1195.4 1236.7,1210.4"/>
<polygon points="1228.2,1195.0 1247.2,1195.0 1237.7,1210.0"/>
<polygon points="1229.1,1194.6 1248.1,1194.6 1238.6,1209.6"/>
<polygon points="1230.1,1194.2 1249.1,1194.2 1239.6,1209.2"/>
<polygon points="1231.0,1193.9 1250.0,1193.9 1240.5,1208.9"/>
<polygon points="1232.0,1193.5 1251.0,1193.5 1241.5,1208.5"/>
<polygon points="1233.0,1193.1 1252.0,1193.1 1242.5,1208.1"/>
<polygon points="1234.0,1192.7 1253.0,1192.7 1243.5,1207.7"/>
<polygon points="1235.0,1192.3 1254.0,1192.3 1244.5,1207.3"/>
<polygon points="1236.0,1191.9 1255.0,1191.9 1245.5,1206.9"/>
<polygon points="1237.0,1191.4 1256.0,1191.4 1246.5,1206.4"/>
<polygon points="1238.0,1190.9 1257.0,1190.9 1247.5,1205.9"/>
<polygon points="1239.0,1190.4 1258.0,1190.4 1248.5,1205.4"/>
<polygon points="1240.1,1189.9 1259.1,1189.9 1249.6,1204.9"/>
<polygon points="1241.1,1189.4 1260.1,1189.4 1250.6,1204.4"/>
<polygon points="1242.2,1188.9 1261.2,1188.9 1251.7,1203.9"/>
<polygon points="1243.2,1188.4 1262.2,1188.4 1252.7,1203.4"/>
<polygon points="1244.3,1187.9 1263.3,1187.9 1253.8,1202.9"/>
<polygon points="1245.4,1187.4 1264.4,1187.4 1254.9,1202.4"/>
<polygon points="1246.4,1186.9 1265.4,1186.9 1255.9,1201.9"/>
<polygon points="1247.5,1186.3 1266.5,1186.3 1257.0,1201.3"/>
<polygon points="1248.6,1185.8 1267.6,1185.8 1258.1,1200.8"/>
<polygon points="1249.8,1185.3 1268.8,1185.3 1259.2,1200.3"/>
<polygon points="1250.9,1184.7 1269.9,1184.7 1260.4,1199.7"/>
<polygon points="1252.0,1184.2 1271.0,1184.2 1261.5,1199.2"/>
<polygon points="1253.1,1183.7 1272.1,1183.7 1262.6,1198.7"/>
<polygon points="1254.3,1183.1 1273.3,1183.1 1263.8,1198.1"/>
<polygon points="1255.4,1182.5 1274.4,1182.5 1264.9,1197.5"/>
<polygon points="1256.6,1182.0 1275.6,1182.0 1266.1,1197.0"/>
<polygon points="1257.8,1181.4 1276.8,1181.4 1267.3,1196.4"/>
<polygon points="1259.0,1180.9 1278.0,1180.9 1268.5,1195.9"/>
<polygon points="1260.2,1180.2 1279.2,1180.2 1269.7,1195.2"/>
<polygon points="1261.4,1179.4 1280.4,1179.4 1270.9,1194.4"/>
<polygon points="1262.6,1178.6 1281.6,1178.6 1272.1,1193.6"/>
<polygon points="1263.8,1177.8 1282.8,1177.8 1273.3,1192.8"/>
<polygon points="1265.0,1177.0 1284.0,1177.0 1274.5,1192.0"/>
<polygon points="1266.3,1176.2 1285.3,1176.2 1275.8,1191.2"/>
<polygon points="1267.6,1175.4 1286.6,1175.4 1277.1,1190.4"/>
<polygon points="1268.8,1174.6 1287.8,1174.6 1278.3,1189.6"/>
<polygon points="1270.1,1173.8 1289.1,1173.8 1279.6,1188.8"/>
<polygon points="1271.4,1172.9 1290.4,1172.9 1280.9,1187.9"/>
<polygon points="1272.7,1172.1 1291.7,1172.1 1282.2,1187.1"/>
<polygon points="1274.0,1171.2 1293.0,1171.2 1283.5,1186.2"/>
<polygon points="1275.3,1170.4 1294.3,1170.4 1284.8,1185.4"/>
<polygon points="1276.7,1169.5 1295.7,1169.5 1286.2,1184.5"/>
<polygon points="1278.0,1168.6 1297.0,1168.6 1287.5,1183.6"/>
<polygon points="1279.4,1167.6 1298.4,1167.6 1288.9,1182.6"/>
<polygon points="1280.7,1166.4 1299.7,1166.4 1290.2,1181.4"/>
<polygon points="1282.1,1165.2 1301.1,1165.2 1291.6,1180.2"/>
<polygon points="1283.5,1164.0 1302.5,1164.0 1293.0,1179.0"/>
<polygon points="1284.9,1162.8 1303.9,1162.8 1294.4,1177.8"/>
<polygon points="1286.4,1161.6 1305.4,1161.6 1295.9,1176.6"/>
<polygon points="1287.8,1160.4 1306.8,1160.4 1297.3,1175.4"/>
<polygon points="1289.2,1158.9 1308.2,1158.9 1298.8,1173.9"/>
<polygon points="1290.7,1157.5 1309.7,1157.5 1300.2,1172.5"/>
<polygon points="1292.2,1156.0 1311.2,1156.0 1301.7,1171.0"/>
<polygon points="1293.7,1154.5 1312.7,1154.5 1303.2,1169.5"/>
<polygon points="1295.2,1153.0 1314.2,1153.0 1304.7,1168.0"/>
<polygon points="1296.7,1151.4 1315.7,1151.4 1306.2,1166.4"/>
<polygon points="1298.2,1149.9 1317.2,1149.9 1307.7,1164.9"/>
<polygon points="1299.8,1148.4 1318.8,1148.4 1309.3,1163.4"/>
<polygon points="1301.3,1146.8 1320.3,1146.8 1310.8,1161.8"/>
<polygon points="1302.9,1145.2 1321.9,1145.2 1312.4,1160.2"/>
<polygon points="1304.5,1143.6 1323.5,1143.6 1314.0,1158.6"/>
<polygon points="1306.1,1142.0 1325.1,1142.0 1315.6,1157.0"/>
<polygon points="1307.7,1140.0 1326.7,1140.0 1317.2,1155.0"/>
<polygon points="1309.4,1138.1 1328.4,1138.1 1318.9,1153.1"/>
<polygon points="1311.0,1136.1 1330.0,1136.1 1320.5,1151.1"/>
<polygon points="1312.7,1134.1 1331.7,1134.1 1322.2,1149.1"/>
<polygon points="1314.4,1132.1 1333.4,1132.1 1323.9,1147.1"/>
<polygon points="1316.1,1130.1 1335.1,1130.1 1325.6,1145.1"/>
<polygon points="1317.8,1128.0 1336.8,1128.0 1327.3,1143.0"/>
<polygon points="1319.6,1125.9 1338.6,1125.9 1329.1,1140.9"/>
<polygon points="1321.3,1123.8 1340.3,1123.8 1330.8,1138.8"/>
<polygon points="1323.1,1121.1 1342.1,1121.1 1332.6,1136.1"/>
<polygon points="1324.9,1117.9 1343.9,1117.9 1334.4,1132.9"/>
<polygon points="1326.7,1114.7 1345.7,1114.7 1336.2,1129.7"/>
<polygon points="1328.5,1111.5 1347.5,1111.5 1338.0,1126.5"/>
<polygon points="1330.4,1108.2 1349.4,1108.2 1339.9,1123.2"/>
<polygon points="1332.3,1104.9 1351.3,1104.9 1341.8,1119.9"/>
<polygon points="1334.2,1101.3 1353.2,1101.3 1343.7,1116.3"/>
<polygon points="1336.1,1097.7 1355.1,1097.7 1345.6,1112.7"/>
<polygon points="1338.0,1094.0 1357.0,1094.0 1347.5,1109.0"/>
<polygon points="1339.9,1090.3 1358.9,1090.3 1349.4,1105.3"/>
<polygon points="1341.9,1086.6 1360.9,1086.6 1351.4,1101.6"/>
<polygon points="1343.9,1082.2 1362.9,1082.2 1353.4,1097.2"/>
<polygon points="1345.9,1077.3 1364.9,1077.3 1355.4,1092.3"/>
<polygon points="1348.0,1072.2 1367.0,1072.2 1357.5,1087.2"/>
<polygon points="1350.0,1067.1 1369.0,1067.1 1359.5,1082.1"/>
<polygon points="1352.1,1062.0 1371.1,1062.0 1361.6,1077.0"/>
<polygon points="1354.2,1056.5 1373.2,1056.5 1363.7,1071.5"/>
<polygon points="1356.3,1050.3 1375.3,1050.3 1365.8,1065.3"/>
<polygon points="1358.5,1044.1 1377.5,1044.1 1368.0,1059.1"/>
<polygon points="1360.7,1037.8 1379.7,1037.8 1370.2,1052.8"/>
<polygon points="1362.9,1031.1 1381.9,1031.1 1372.4,1046.1"/>
<polygon points="1365.1,1022.4 1384.1,1022.4 1374.6,1037.4"/>
<polygon points="1367.3,1013.6 1386.3,1013.6 1376.8,1028.6"/>
<polygon points="1369.6,1004.7 1388.6,1004.7 1379.1,1019.7"/>
<polygon points="1371.9,995.7 1390.9,995.7 1381.4,1010.7"/>
<polygon points="1374.3,986.6 1393.3,986.6 1383.8,1001.6"/>
<polygon points="1376.6,977.4 1395.6,977.4 1386.1,992.4"/>
<polygon points="1379.0,968.1 1398.0,968.1 1388.5,983.1"/>
<polygon points="1381.4,958.7 1400.4,958.7 1390.9,973.7"/>
<polygon points="1383.9,950.2 1402.9,950.2 1393.4,965.2"/>
<polygon points="1386.3,943.8 1405.3,943.8 1395.8,958.8"/>
<polygon points="1388.8,937.2 1407.8,937.2 1398.3,952.2"/>
<polygon points="1391.4,930.5 1410.4,930.5 1400.9,945.5"/>
<polygon points="1393.9,923.8 1412.9,923.8 1403.4,938.8"/>
<polygon points="1396.5,917.0 1415.5,917.0 1406.0,932.0"/>
<polygon points="1399.2,910.1 1418.2,910.1 1408.7,925.1"/>
<polygon points="1401.8,903.1 1420.8,903.1 1411.3,918.1"/>
<polygon points="1404.5,896.1 1423.5,896.1 1414.0,911.1"/>
<polygon points="1407.2,888.9 1426.2,888.9 1416.8,903.9"/>
<polygon points="1410.0,881.6 1429.0,881.6 1419.5,896.6"/>
<polygon points="1412.8,874.3 1431.8,874.3 1422.3,889.3"/>
<polygon points="1415.7,866.8 1434.7,866.8 1425.2,881.8"/>
<polygon points="1418.5,859.1 1437.5,859.1 1428.0,874.1"/>
<polygon points="1421.4,851.3 1440.4,851.3 1430.9,866.3"/>
<polygon points="1424.4,843.5 1443.4,843.5 1433.9,858.5"/>
<polygon points="1427.4,835.5 1446.4,835.5 1436.9,850.5"/>
<polygon points="1430.4,827.4 1449.4,827.4 1439.9,842.4"/>
<polygon points="1433.5,819.3 1452.5,819.3 1443.0,834.3"/>
<polygon points="1436.6,811.0 1455.6,811.0 1446.1,826.0"/>
<polygon points="1439.7,802.6 1458.7,802.6 1449.2,817.6"/>
<polygon points="1442.9,794.0 1461.9,794.0 1452.4,809.0"/>
<polygon points="1446.2,784.3 1465.2,784.3 1455.7,799.3"/>
<polygon points="1449.4,774.2 1468.4,774.2 1458.9,789.2"/>
<polygon points="1452.8,764.0 1471.8,764.0 1462.3,779.0"/>
<polygon points="1456.2,753.6 1475.2,753.6 1465.7,768.6"/>
<polygon points="1459.6,743.0 1478.6,743.0 1469.1,758.0"/>
<polygon points="1463.0,732.3 1482.0,732.3 1472.5,747.3"/>
<polygon points="1466.6,721.5 1485.6,721.5 1476.1,736.5"/>
<polygon points="1470.1,710.5 1489.1,710.5 1479.6,725.5"/>
<polygon points="1473.8,699.3 1492.8,699.3 1483.3,714.3"/>
<polygon points="1477.5,688.0 1496.5,688.0 1487.0,703.0"/>
<polygon points="1481.2,676.5 1500.2,676.5 1490.7,691.5"/>
<polygon points="1485.0,664.2 1504.0,664.2 1494.5,679.2"/>
<polygon points="1488.8,651.4 1507.8,651.4 1498.3,666.4"/>
<polygon points="1492.7,638.4 1511.7,638.4 1502.2,653.4"/>
<polygon points="1496.7,625.2 1515.7,625.2 1506.2,640.2"/>
<polygon points="1500.7,611.7 1519.7,611.7 1510.2,626.7"/>
<polygon points="1504.8,598.1 1523.8,598.1 1514.3,613.1"/>
<polygon points="1509.0,584.3 1528.0,584.3 1518.5,599.3"/>
<polygon points="1513.2,570.2 1532.2,570.2 1522.7,585.2"/>
<polygon points="1517.5,555.9 1536.5,555.9 1527.0,570.9"/>
<polygon points="1521.8,541.4 1540.8,541.4 1531.3,556.4"/>
<polygon points="1526.2,526.5 1545.2,526.5 1535.8,541.5"/>
<polygon points="1530.7,511.2 1549.7,511.2 1540.2,526.2"/>
<polygon points="1535.3,495.6 1554.3,495.6 1544.8,510.6"/>
<polygon points="1540.0,479.7 1559.0,479.7 1549.5,494.7"/>
<polygon points="1544.7,463.6 1563.7,463.6 1554.2,478.6"/>
<polygon points="1549.5,447.2 1568.5,447.2 1559.0,462.2"/>
<polygon points="1554.4,430.5 1573.4,430.5 1563.9,445.5"/>
<polygon points="1559.3,413.5 1578.3,413.5 1568.8,428.5"/>
<polygon points="1564.4,396.3 1583.4,396.3 1573.9,411.3"/>
<polygon points="1569.5,378.1 1588.5,378.1 1579.0,393.1"/>
<polygon points="1574.8,359.4 1593.8,359.4 1584.3,374.4"/>
<polygon points="1580.1,340.4 1599.1,340.4 1589.6,355.4"/>
<polygon points="1585.5,321.1 1604.5,321.1 1595.0,336.1"/>
<polygon points="1591.0,301.4 1610.0,301.4 1600.5,316.4"/>
<polygon points="1596.6,281.4 1615.6,281.4 1606.1,296.4"/>
<polygon points="1602.4,261.2 1621.4,261.2 1611.9,276.2"/>
<polygon points="1608.2,240.5 1627.2,240.5 1617.7,255.5"/>
<polygon points="1614.1,219.5 1633.1,219.5 1623.6,234.5"/>
<polygon points="1620.2,197.3 1639.2,197.3 1629.7,212.3"/>
<polygon points="1633.5,157.5 1652.5,157.5 1643.0,172.5"/>
<polygon points="1647.5,158.5 1666.5,158.5 1657.0,173.5"/>
<polygon points="1658.5,148.5 1677.5,148.5 1668.0,163.5"/>
<polygon points="1667.5,131.5 1686.5,131.5 1677.0,146.5"/>
<polygon points="1672.9,102.0 1691.9,102.0 1682.4,117.0"/>
<polygon points="1679.5,52.1 1698.5,52.1 1689.0,67.1"/>
</g>
<polygon points="1354.2,1247.6 1364,1247.6 1372,1251 1359.6,1281 1354.2,1281" fill="#00ff00"/>
<line x1="1363.9" y1="1281.0" x2="1633.1" y2="162" stroke="#000" stroke-width="2.8" stroke-dasharray="6 6"/>
<line x1="1361.9" y1="1281.0" x2="1631.1" y2="162" stroke="#0000ff" stroke-width="2.8" stroke-dasharray="15 5"/>
<line x1="1360.1" y1="1281.0" x2="1629.3" y2="162" stroke="#ff0000" stroke-width="2.8" stroke-dasharray="6 8"/>
<line x1="1358.1" y1="1281.0" x2="1627.3" y2="162" stroke="#00ff00" stroke-width="2.8" stroke-dasharray="14 4"/>
</g>
<rect x="130.8" y="30.0" width="760.4000000000001" height="1251.0" fill="none" stroke="#000" stroke-width="4.4"/>
<rect x="1051.8" y="30.0" width="761.5" height="1251.0" fill="none" stroke="#000" stroke-width="4.4"/>
<line x1="198.5" y1="1281.0" x2="198.5" y2="1256.5" stroke="#000" stroke-width="3.2"/>
<line x1="371.6" y1="1281.0" x2="371.6" y2="1256.5" stroke="#000" stroke-width="3.2"/>
<line x1="544.8" y1="1281.0" x2="544.8" y2="1256.5" stroke="#000" stroke-width="3.2"/>
<line x1="718.0" y1="1281.0" x2="718.0" y2="1256.5" stroke="#000" stroke-width="3.2"/>
<line x1="891.1" y1="1281.0" x2="891.1" y2="1256.5" stroke="#000" stroke-width="3.2"/>
<line x1="285.1" y1="1281.0" x2="285.1" y2="1268.5" stroke="#000" stroke-width="3.2"/>
<line x1="458.2" y1="1281.0" x2="458.2" y2="1268.5" stroke="#000" stroke-width="3.2"/>
<line x1="631.4" y1="1281.0" x2="631.4" y2="1268.5" stroke="#000" stroke-width="3.2"/>
<line x1="804.5" y1="1281.0" x2="804.5" y2="1268.5" stroke="#000" stroke-width="3.2"/>
<line x1="1121.0" y1="1281.0" x2="1121.0" y2="1256.5" stroke="#000" stroke-width="3.2"/>
<line x1="1259.2" y1="1281.0" x2="1259.2" y2="1256.5" stroke="#000" stroke-width="3.2"/>
<line x1="1397.5" y1="1281.0" x2="1397.5" y2="1256.5" stroke="#000" stroke-width="3.2"/>
<line x1="1535.8" y1="1281.0" x2="1535.8" y2="1256.5" stroke="#000" stroke-width="3.2"/>
<line x1="1674.0" y1="1281.0" x2="1674.0" y2="1256.5" stroke="#000" stroke-width="3.2"/>
<line x1="1812.2" y1="1281.0" x2="1812.2" y2="1256.5" stroke="#000" stroke-width="3.2"/>
<line x1="1190.1" y1="1281.0" x2="1190.1" y2="1268.5" stroke="#000" stroke-width="3.2"/>
<line x1="1328.4" y1="1281.0" x2="1328.4" y2="1268.5" stroke="#000" stroke-width="3.2"/>
<line x1="1466.6" y1="1281.0" x2="1466.6" y2="1268.5" stroke="#000" stroke-width="3.2"/>
<line x1="1604.9" y1="1281.0" x2="1604.9" y2="1268.5" stroke="#000" stroke-width="3.2"/>
<line x1="1743.1" y1="1281.0" x2="1743.1" y2="1268.5" stroke="#000" stroke-width="3.2"/>
<g font-family="'Liberation Serif','Times New Roman',serif" fill="#000" stroke="#fdfdfd" stroke-width="0.9">
<text x="198.5" y="1347.6" font-size="53" text-anchor="middle">500</text>
<text x="371.6" y="1347.6" font-size="53" text-anchor="middle">750</text>
<text x="544.8" y="1347.6" font-size="53" text-anchor="middle">1000</text>
<text x="718.0" y="1347.6" font-size="53" text-anchor="middle">1250</text>
<text x="891.1" y="1347.6" font-size="53" text-anchor="middle">1500</text>
<text x="1121.0" y="1347.6" font-size="53" text-anchor="middle">0.5</text>
<text x="1259.2" y="1347.6" font-size="53" text-anchor="middle">1.0</text>
<text x="1397.5" y="1347.6" font-size="53" text-anchor="middle">1.5</text>
<text x="1535.8" y="1347.6" font-size="53" text-anchor="middle">2.0</text>
<text x="1674.0" y="1347.6" font-size="53" text-anchor="middle">2.5</text>
<text x="1812.2" y="1347.6" font-size="53" text-anchor="middle">3.0</text>
<text x="273.3" y="1450.7" font-size="68.4">Wavelength (nm)</text>
<text x="1327.2" y="1454.2" font-size="69"><tspan font-style="italic">hv</tspan> (eV)</text>
<text transform="translate(76.5,656) rotate(-90)" font-size="69" text-anchor="middle">Absorbance (a.u.)</text>
<text transform="translate(1007.8,718.2) rotate(-90)" font-size="70">(<tspan font-style="italic">Ahv</tspan>)<tspan font-size="41" dy="-37.5">2</tspan></text>
<text x="35.8" y="66.6" font-size="69" font-weight="bold" stroke="none">a</text>
<text x="958.1" y="84.5" font-size="69" font-weight="bold" stroke="none">b</text>
<text y="105.3" font-size="51.8"><tspan x="553.6" font-size="52.6">600</tspan><tspan x="648.8" dy="-8.2">°</tspan><tspan x="664.5" dy="8.2">C, 10 min</tspan></text>
<text y="181.4" font-size="51.8"><tspan x="553.6" font-size="52.6">600</tspan><tspan x="648.8" dy="-8.2">°</tspan><tspan x="664.5" dy="8.2">C, 15 min</tspan></text>
<text y="257.5" font-size="51.8"><tspan x="553.6" font-size="52.6">600</tspan><tspan x="648.8" dy="-8.2">°</tspan><tspan x="664.5" dy="8.2">C, 20 min</tspan></text>
<text y="333.6" font-size="51.8"><tspan x="553.6" font-size="52.6">600</tspan><tspan x="648.8" dy="-8.2">°</tspan><tspan x="664.5" dy="8.2">C, 25 min</tspan></text>
<text y="99.2" font-size="51.8"><tspan x="1199.6" font-size="52.6">600</tspan><tspan x="1294.7" dy="-10">°</tspan><tspan x="1313.2" dy="10">C, 10 min</tspan></text>
<text y="174.8" font-size="51.8"><tspan x="1199.6" font-size="52.6">600</tspan><tspan x="1294.7" dy="-10">°</tspan><tspan x="1313.2" dy="10">C, 15 min</tspan></text>
<text y="250.4" font-size="51.8"><tspan x="1199.6" font-size="52.6">600</tspan><tspan x="1294.7" dy="-10">°</tspan><tspan x="1313.2" dy="10">C, 20 min</tspan></text>
<text y="326.0" font-size="51.8"><tspan x="1199.6" font-size="52.6">600</tspan><tspan x="1294.7" dy="-10">°</tspan><tspan x="1313.2" dy="10">C, 25 min</tspan></text>
</g>
<g fill="none" stroke-width="4">
<line x1="409.3" y1="83.5" x2="542.7" y2="83.5" stroke="#333"/>
<line x1="409.3" y1="160" x2="542.7" y2="160" stroke="#ff0000" stroke-dasharray="20 18.7"/>
<line x1="409.3" y1="236.1" x2="542.7" y2="236.1" stroke="#800000" stroke-dasharray="25 8 5.5 10.5"/>
<line x1="409.3" y1="312.1" x2="542.7" y2="312.1" stroke="#3333ff" stroke-dasharray="6.7 16"/>
</g>
<rect x="1115" y="69.5" width="15" height="14" fill="#000"/>
<circle cx="1122.7" cy="153.3" r="7.8" fill="none" stroke="#ff6666" stroke-width="2"/>
<polygon points="1122.8,219 1132.7,237 1113.5,237" fill="#00ee00"/>
<polygon points="1113.5,298.5 1132,298.5 1122.8,318" fill="none" stroke="#7777ff" stroke-width="2"/>
</svg>
</body></html>
